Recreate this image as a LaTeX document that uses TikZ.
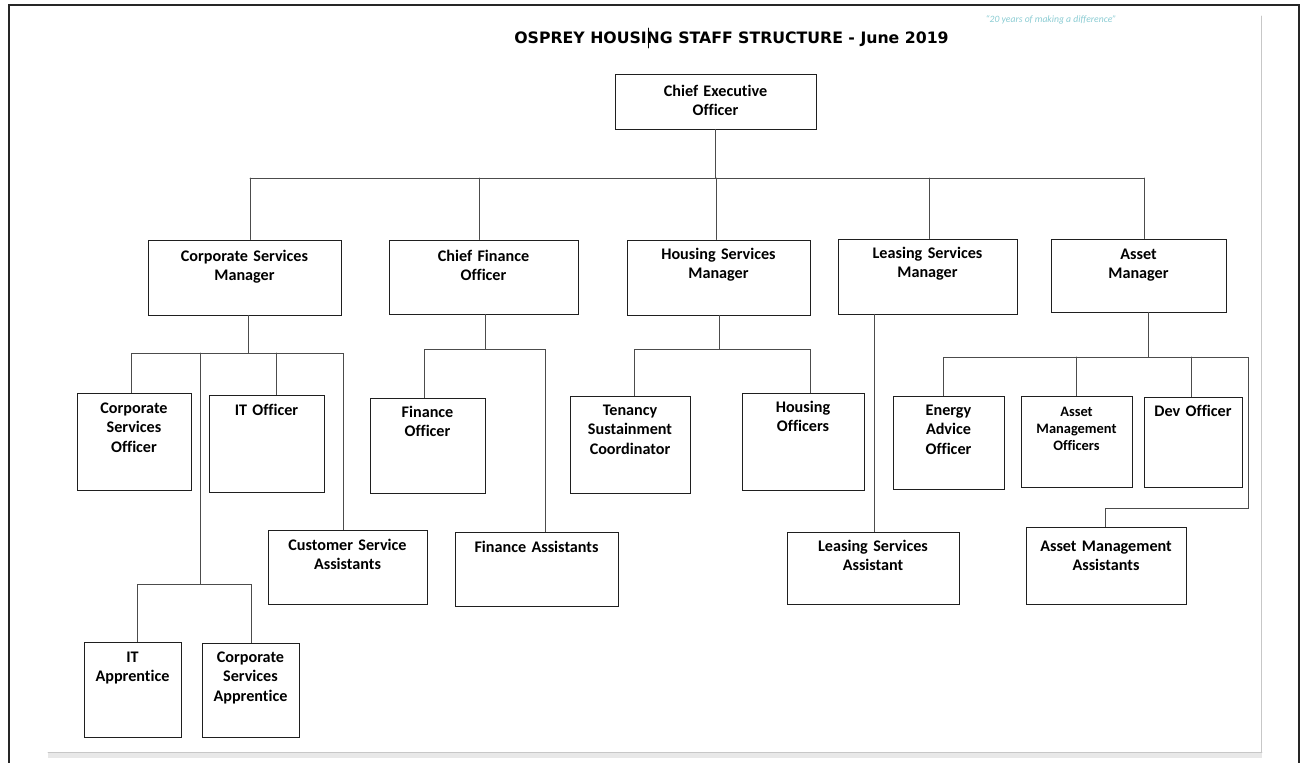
\documentclass[tikz,border=0pt]{standalone}
\usepackage{fontspec}
\setmainfont{Carlito}[Ligatures={TeX,NoCommon}]
\newfontfamily\titlefont{DejaVu Sans}
\usetikzlibrary{fit}
\definecolor{quotecol}{RGB}{140,205,212}
\begin{document}
\begin{tikzpicture}[x=0.02cm,y=-0.02cm,line cap=round,
		box/.style={draw=black!88,line width=0.55pt,inner sep=0pt},
		lbl/.style={font=\bfseries\fontsize{9.2}{11}\selectfont,align=center,text width=3cm,inner sep=0pt,anchor=base,yshift=-11.9pt},
		link/.style={draw=black!70,line width=0.55pt}]
	\useasboundingbox (0,0) rectangle (1301,763);
	\fill[white] (0,0) rectangle (1301,763);
	% page
	\fill[black!9] (48,752) rectangle (1262,758);
	\draw[black!22,line width=0.5pt] (48,752) -- (1262,752);
	\draw[black!22,line width=0.5pt] (1261.5,16) -- (1261.5,752);
	\draw[black!85,line width=1.2pt] (9,763) -- (9,5) -- (1299,5) -- (1299,763);
	% heading
	\node[font=\itshape\fontsize{5.5}{6}\selectfont,text=quotecol,anchor=base,inner sep=0pt] (motto) at (1051,23) {``20 years of making a difference''};
	\node[font=\titlefont\bfseries\fontsize{8.95}{10}\selectfont,anchor=base,inner sep=0pt] (title) at (731.5,44) {OSPREY HOUSING STAFF STRUCTURE - June 2019};
	\draw[black,line width=0.3pt] (648,28) -- (648,48);
	% boxes
	\node[box,fit={(615,74) (816,129)}] (ceo) {};
	\node[box,fit={(148,240) (341,315)}] (csm) {};
	\node[box,fit={(389,240) (578,314)}] (cfo) {};
	\node[box,fit={(627,240) (810,315)}] (hsm) {};
	\node[box,fit={(838,239) (1017,314)}] (lsm) {};
	\node[box,fit={(1051,239) (1226,312)}] (am) {};
	\node[box,fit={(77,393) (191,490)}] (cso) {};
	\node[box,fit={(209,395) (324,492)}] (ito) {};
	\node[box,fit={(370,398) (485,493)}] (fo) {};
	\node[box,fit={(570,396) (690,493)}] (tsc) {};
	\node[box,fit={(742,393) (864,490)}] (ho) {};
	\node[box,fit={(893,396) (1004,489)}] (eao) {};
	\node[box,fit={(1021,396) (1132,487)}] (amo) {};
	\node[box,fit={(1144,397) (1242,487)}] (dev) {};
	\node[box,fit={(268,530) (427,604)}] (csa) {};
	\node[box,fit={(455,532) (618,606)}] (fa) {};
	\node[box,fit={(787,532) (959,604)}] (lsa) {};
	\node[box,fit={(1026,527) (1186,604)}] (ama) {};
	\node[box,fit={(84,642) (181,737)}] (ita) {};
	\node[box,fit={(202,643) (299,737)}] (csap) {};
	% texts
	\node[lbl,yshift=-1.1pt] (ceo-t) at (ceo.north) {Chief Executive\\Officer};
	\node[lbl,yshift=-0.6pt] (csm-t) at (csm.north) {Corporate Services\\Manager};
	\node[lbl,yshift=-0.6pt] (cfo-t) at (cfo.north) {Chief Finance\\Officer};
	\node[lbl,yshift=0.6pt] (hsm-t) at (hsm.north) {Housing Services\\Manager};
	\node[lbl,yshift=0.6pt] (lsm-t) at (lsm.north) {Leasing Services\\Manager};
	\node[lbl] (am-t) at (am.north) {Asset\\Manager};
	\node[lbl] (cso-t) at (cso.north) {Corporate\\Services\\Officer};
	\node[lbl] (ito-t) at (ito.north) {IT Officer};
	\node[lbl,yshift=0.6pt] (fo-t) at (fo.north) {Finance\\Officer};
	\node[lbl,yshift=0.6pt] (tsc-t) at (tsc.north) {Tenancy\\Sustainment\\Coordinator};
	\node[lbl,yshift=0.6pt] (ho-t) at (ho.north) {Housing\\Officers};
	\node[lbl,yshift=0.6pt] (eao-t) at (eao.north) {Energy\\Advice\\Officer};
	\node[lbl,font=\bfseries\fontsize{8.2}{9.6}\selectfont] (amo-t) at (amo.north) {Asset\\Management\\Officers};
	\node[lbl,yshift=0.6pt] (dev-t) at (dev.north) {Dev Officer};
	\node[lbl] (csa-t) at (csa.north) {Customer Service\\Assistants};
	\node[lbl] (fa-t) at (fa.north) {Finance Assistants};
	\node[lbl,yshift=0.6pt] (lsa-t) at (lsa.north) {Leasing Services\\Assistant};
	\node[lbl,yshift=-2.3pt] (ama-t) at (ama.north) {Asset Management\\Assistants};
	\node[lbl] (ita-t) at (ita.north) {IT\\Apprentice};
	\node[lbl,yshift=0.6pt] (csap-t) at (csap.north) {Corporate\\Services\\Apprentice};
	% chief executive
	\coordinate (k1) at (250,178);
	\coordinate (k2) at (479,178);
	\coordinate (k3) at (716,178);
	\coordinate (k4) at (929,178);
	\coordinate (k5) at (1144,178);
	\draw[link] (ceo.south) -- (ceo.south |- k3);
	\draw[link] (k1) -- (k5);
	\draw[link] (k1) -- (k1 |- csm.north);
	\draw[link] (k2) -- (k2 |- cfo.north);
	\draw[link] (k3) -- (k3 |- hsm.north);
	\draw[link] (k4) -- (k4 |- lsm.north);
	\draw[link] (k5) -- (k5 |- am.north);
	% corporate services
	\coordinate (c0) at (248,353);
	\coordinate (c1) at (131,353);
	\coordinate (c2) at (200,353);
	\coordinate (c3) at (276,353);
	\coordinate (c4) at (343,353);
	\coordinate (c5) at (200,584);
	\coordinate (a1) at (137,584);
	\coordinate (a2) at (251,584);
	\draw[link] (c0 |- csm.south) -- (c0);
	\draw[link] (c1 |- cso.north) -- (c1) -- (c4) -- (c4 |- csa.north);
	\draw[link] (c3) -- (c3 |- ito.north);
	\draw[link] (c2) -- (c5);
	\draw[link] (a1 |- ita.north) -- (a1) -- (a2) -- (a2 |- csap.north);
	% finance
	\coordinate (f0) at (485,349);
	\coordinate (f1) at (424,349);
	\coordinate (f2) at (545,349);
	\draw[link] (f0 |- cfo.south) -- (f0);
	\draw[link] (f1 |- fo.north) -- (f1) -- (f2) -- (f2 |- fa.north);
	% housing
	\coordinate (h0) at (719,349);
	\coordinate (h1) at (634,349);
	\coordinate (h2) at (810,349);
	\draw[link] (h0 |- hsm.south) -- (h0);
	\draw[link] (h1 |- tsc.north) -- (h1) -- (h2) -- (h2 |- ho.north);
	% leasing
	\coordinate (l0) at (874,420);
	\draw[link] (l0 |- lsm.south) -- (l0 |- lsa.north);
	% assets
	\coordinate (m0) at (1148,357);
	\coordinate (m1) at (943,357);
	\coordinate (m2) at (1076,357);
	\coordinate (m3) at (1191,357);
	\coordinate (m4) at (1248,357);
	\coordinate (m5) at (1248,508);
	\coordinate (m6) at (1105,508);
	\draw[link] (m0 |- am.south) -- (m0);
	\draw[link] (m1 |- eao.north) -- (m1) -- (m4) -- (m5) -- (m6) -- (m6 |- ama.north);
	\draw[link] (m2) -- (m2 |- amo.north);
	\draw[link] (m3) -- (m3 |- dev.north);
\end{tikzpicture}
\end{document}
